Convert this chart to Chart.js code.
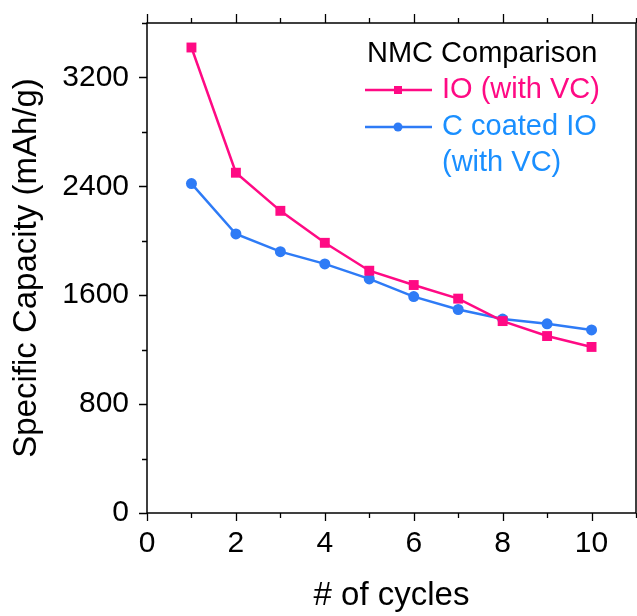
<!DOCTYPE html>
<html>
<head>
<meta charset="utf-8">
<script src="https://cdn.jsdelivr.net/npm/chart.js@4"></script>
<style>
  html, body { margin: 0; padding: 0; background: #fff; }
  #wrap { width: 637px; height: 616px; }
</style>
</head>
<body>
<div id="wrap"><canvas id="capacityChart" width="637" height="616"></canvas></div>
<script>
const cycles = [1, 2, 3, 4, 5, 6, 7, 8, 9, 10];
const ioWithVC = [3420, 2500, 2220, 1985, 1780, 1675, 1575, 1410, 1300, 1220];
const cCoatedWithVC = [2420, 2050, 1920, 1830, 1720, 1590, 1495, 1425, 1390, 1345];
const legendTitle = 'NMC Comparison';
const seriesLabels = [['IO (with VC)'], ['C coated IO', '(with VC)']];

const PINK = '#ff0a84';
const BLUE = '#2e7bf6';
const BLUE_TEXT = '#1a8fff';
const FONT = '"Liberation Sans", Arial, sans-serif';

function points(ys) {
    return cycles.map((c, i) => ({ x: c, y: ys[i] }));
}

// plot box runs to the right edge of the canvas
const stretchRight = {
    id: 'stretchRight',
    afterLayout(chart) {
        const xs = chart.scales.x;
        const r = chart.width - 1;
        chart.chartArea.right = r;
        chart.chartArea.width = r - chart.chartArea.left;
        xs.right = r;
        xs.width = r - xs.left;
        xs.configure();
    }
};

// axis box plus outward ticks (major + minor)
const frameTicks = {
    id: 'frameTicks',
    afterDraw(chart) {
        const { ctx, chartArea: a, scales } = chart;
        ctx.save();
        ctx.strokeStyle = '#000';
        ctx.lineWidth = 1.5;
        ctx.strokeRect(a.left, a.top, a.right - a.left, a.bottom - a.top);
        ctx.lineWidth = 1.3;
        ctx.beginPath();
        scales.y.ticks.forEach(t => {
            const y = Math.round(scales.y.getPixelForValue(t.value)) + 0.5;
            const len = t.value % 800 === 0 ? 8 : 5;
            ctx.moveTo(a.left - len, y);
            ctx.lineTo(a.left, y);
        });
        scales.x.ticks.forEach(t => {
            const x = Math.round(scales.x.getPixelForValue(t.value)) + 0.5;
            const major = t.value % 2 === 0;
            ctx.moveTo(x, a.bottom);
            ctx.lineTo(x, a.bottom + (major ? 8 : 5));
            ctx.moveTo(x, a.top);
            ctx.lineTo(x, a.top - (major ? 9 : 5));
        });
        ctx.stroke();
        ctx.restore();
    }
};

// legend drawn by hand (multi-line label, coloured text)
const sideLegend = {
    id: 'sideLegend',
    afterDraw(chart) {
        const { ctx } = chart;
        ctx.save();
        ctx.font = '29px ' + FONT;
        ctx.textBaseline = 'middle';
        ctx.textAlign = 'left';
        ctx.fillStyle = '#000';
        ctx.fillText(legendTitle, 367, 54);

        const rows = [
            { y: 90, color: PINK, text: PINK, style: 'rect' },
            { y: 127, color: BLUE, text: BLUE_TEXT, style: 'circle' }
        ];
        rows.forEach((r, i) => {
            ctx.strokeStyle = r.color;
            ctx.lineWidth = 2.5;
            ctx.beginPath();
            ctx.moveTo(365, r.y);
            ctx.lineTo(432, r.y);
            ctx.stroke();
            ctx.fillStyle = r.color;
            if (r.style === 'rect') {
                ctx.fillRect(394, r.y - 4, 8, 8);
            } else {
                ctx.beginPath();
                ctx.arc(398, r.y, 4.5, 0, Math.PI * 2);
                ctx.fill();
            }
            ctx.fillStyle = r.text;
            seriesLabels[i].forEach((line, k) => {
                ctx.fillText(line, 442, r.y + k * 36);
            });
        });
        ctx.restore();
    }
};

document.addEventListener('DOMContentLoaded', () => {
    const ctxt = document.getElementById('capacityChart').getContext('2d');
    new Chart(ctxt, {
        type: 'line',
        data: {
            datasets: [
                {
                    label: seriesLabels[0].join(' '),
                    data: points(ioWithVC),
                    borderColor: PINK,
                    backgroundColor: PINK,
                    borderWidth: 2.5,
                    pointStyle: 'rect',
                    pointRadius: 7,
                    pointBorderWidth: 0,
                    tension: 0
                },
                {
                    label: seriesLabels[1].join(' '),
                    data: points(cCoatedWithVC),
                    borderColor: BLUE,
                    backgroundColor: BLUE,
                    borderWidth: 2.5,
                    pointStyle: 'circle',
                    pointRadius: 5.5,
                    pointBorderWidth: 0,
                    tension: 0
                }
            ]
        },
        options: {
            responsive: false,
            animation: false,
            layout: { padding: { top: 23, right: 1, left: 0, bottom: 0 } },
            plugins: {
                legend: { display: false },
                tooltip: { enabled: false }
            },
            scales: {
                x: {
                    type: 'linear',
                    min: 0,
                    max: 11,
                    border: { display: false },
                    grid: { drawOnChartArea: false, drawTicks: true, tickLength: 8, color: 'rgba(0,0,0,0)' },
                    ticks: {
                        stepSize: 1,
                        padding: 5,
                        maxRotation: 0,
                        autoSkip: false,
                        color: '#000',
                        font: { family: FONT, size: 30 },
                        callback: v => (v % 2 === 0 && v <= 10 ? v : '')
                    },
                    title: {
                        display: true,
                        text: '# of cycles',
                        color: '#000',
                        font: { family: FONT, size: 33 },
                        padding: { top: 0, bottom: 0 }
                    },
                    afterFit: s => {
                        s.height = 103;
                        s.paddingLeft = 0;
                        s.paddingRight = 0;
                    }
                },
                y: {
                    min: 0,
                    max: 3600,
                    border: { display: false },
                    grid: { drawOnChartArea: false, drawTicks: true, tickLength: 8, color: 'rgba(0,0,0,0)' },
                    ticks: {
                        stepSize: 400,
                        padding: 10,
                        autoSkip: false,
                        color: '#000',
                        font: { family: FONT, size: 30 },
                        callback: v => (v % 800 === 0 ? v : '')
                    },
                    title: {
                        display: true,
                        text: 'Specific Capacity (mAh/g)',
                        color: '#000',
                        font: { family: FONT, size: 33 },
                        padding: { top: 7, bottom: 0 }
                    },
                    afterFit: s => {
                        s.width = 147;
                        s.paddingTop = 0;
                        s.paddingBottom = 0;
                    }
                }
            }
        },
        plugins: [stretchRight, frameTicks, sideLegend]
    });
});
</script>
</body>
</html>
